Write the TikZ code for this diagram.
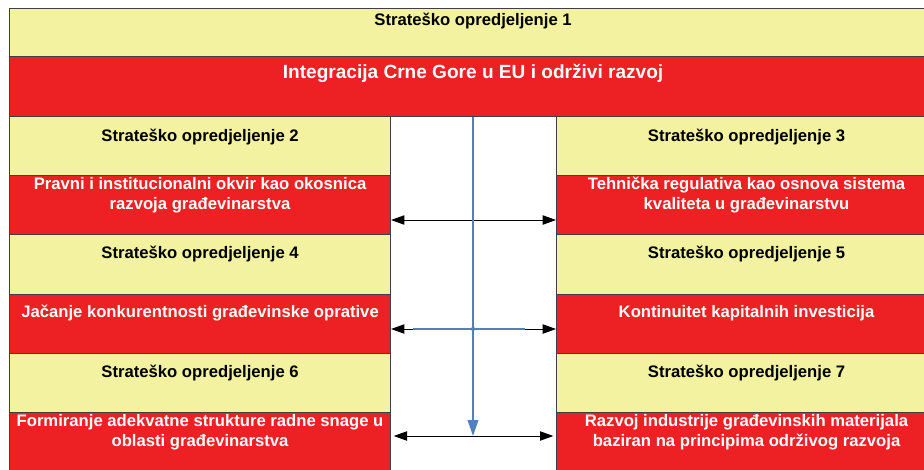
\documentclass[tikz,border=0pt]{standalone}
\usepackage{fontspec}
\setmainfont{Liberation Sans}
\usetikzlibrary{arrows.meta}

\definecolor{yel}{RGB}{242,242,160}
\definecolor{crv}{RGB}{237,32,36}
\definecolor{boxline}{RGB}{64,64,64}
\definecolor{plava}{RGB}{79,129,189}

\tikzset{
  okvir/.style={draw=boxline, line width=0.8pt, anchor=north west, inner sep=0pt},
  ybox/.style={okvir, fill=yel},
  rbox/.style={okvir, fill=crv},
  ytxt/.style={font=\bfseries\fontsize{12.5}{15}\selectfont, align=center, text=black, inner sep=0pt},
  rtxt/.style={ytxt, text=white},
  strel/.style={{Triangle[length=10pt,width=7pt]}-{Triangle[length=10pt,width=7pt]}, black, line width=0.7pt},
}

\begin{document}
\begin{tikzpicture}[x=0.75pt,y=-0.75pt]
  \useasboundingbox (0,0) rectangle (924,469);
  \clip (0,0) rectangle (924,469);
  \fill[white] (0,0) rectangle (924,469);

  % vrh
  \node[ybox, minimum width=695.25pt, minimum height=36pt] (o1) at (9,8) {};
  \node[rbox, minimum width=695.25pt, minimum height=45pt] (ttl) at (9,56) {};
  \node[ytxt, yshift=-9.75pt] at (o1.north) (o1t) {Strateško opredjeljenje 1};
  \node[rtxt, yshift=-12.75pt, font=\bfseries\fontsize{14.3}{17}\selectfont] at (ttl.north) (ttlt) {Integracija Crne Gore u EU i održivi razvoj};

  % lijeva kolona
  \node[ybox, minimum width=285.75pt, minimum height=44.375pt] (o2) at (9,116) {};
  \node[rbox, minimum width=285.75pt, minimum height=44.375pt] (c2) at (9,175.17) {};
  \node[ybox, minimum width=285.75pt, minimum height=44.375pt] (o4) at (9,234.33) {};
  \node[rbox, minimum width=285.75pt, minimum height=44.375pt] (c4) at (9,293.5) {};
  \node[ybox, minimum width=285.75pt, minimum height=44.375pt] (o6) at (9,352.67) {};
  \node[rbox, minimum width=285.75pt, minimum height=44.375pt] (c6) at (9,411.83) {};

  % desna kolona
  \node[ybox, minimum width=285pt, minimum height=44.375pt] (o3) at (556,116) {};
  \node[rbox, minimum width=285pt, minimum height=44.375pt] (c3) at (556,175.17) {};
  \node[ybox, minimum width=285pt, minimum height=44.375pt] (o5) at (556,234.33) {};
  \node[rbox, minimum width=285pt, minimum height=44.375pt] (c5) at (556,293.5) {};
  \node[ybox, minimum width=285pt, minimum height=44.375pt] (o7) at (556,352.67) {};
  \node[rbox, minimum width=285pt, minimum height=44.375pt] (c7) at (556,411.83) {};

  % tekstovi
  \node[ytxt, yshift=-15.5pt] at (o2.north) (o2t) {Strateško opredjeljenje 2};
  \node[ytxt, yshift=-15.5pt] at (o3.north) (o3t) {Strateško opredjeljenje 3};
  \node[ytxt, yshift=-15pt] at (o4.north) (o4t) {Strateško opredjeljenje 4};
  \node[ytxt, yshift=-15pt] at (o5.north) (o5t) {Strateško opredjeljenje 5};
  \node[ytxt, yshift=-15pt] at (o6.north) (o6t) {Strateško opredjeljenje 6};
  \node[ytxt, yshift=-15pt] at (o7.north) (o7t) {Strateško opredjeljenje 7};
  \node[rtxt, yshift=-15pt] at (c2.north) (c2t) {Pravni i institucionalni okvir kao okosnica\\razvoja građevinarstva};
  \node[rtxt, yshift=-15pt] at (c3.north) (c3t) {Tehnička regulativa kao osnova sistema\\kvaliteta u građevinarstvu};
  \node[rtxt, yshift=-14.5pt] at (c4.north) (c4t) {Jačanje konkurentnosti građevinske oprative};
  \node[rtxt, yshift=-14.5pt] at (c5.north) (c5t) {Kontinuitet kapitalnih investicija};
  \node[rtxt, yshift=-15pt] at (c6.north) (c6t) {Formiranje adekvatne strukture radne snage u\\oblasti građevinarstva};
  \node[rtxt, yshift=-15pt] at (c7.north) (c7t) {Razvoj industrije građevinskih materijala\\baziran na principima održivog razvoja};

  % veze
  \coordinate (k1) at (473,220);
  \coordinate (osa) at (473,329);
  \coordinate (vrh) at (473,436);
  \draw[strel] (c2.east |- k1) -- (c3.west |- k1);
  \draw[strel] (c4.east |- osa) -- (c5.west |- osa);
  \draw[strel] ([xshift=2pt]c6.east |- vrh) -- ([xshift=-2pt]c7.west |- vrh);

  \draw[plava, line width=1.2pt] (osa) ++(-60,0) -- ++(112,0);
  \draw[plava, line width=1.2pt, -{Triangle[length=12pt,width=8pt]}] (ttl.south -| osa) -- (vrh);
  \fill[plava] (osa) circle (1.6pt);
\end{tikzpicture}
\end{document}
